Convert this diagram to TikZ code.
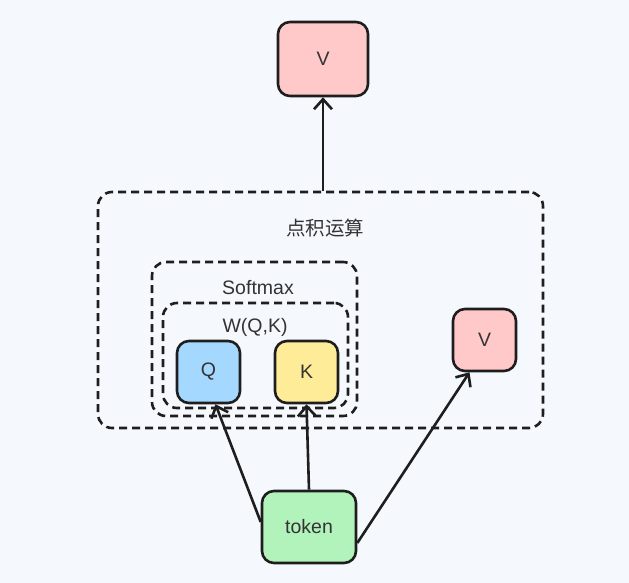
\documentclass[tikz,border=0pt]{standalone}
\usepackage{fontspec}
\setmainfont{Liberation Sans}
\newfontfamily\cjk{Noto Sans CJK SC}
\usetikzlibrary{arrows.meta}
\definecolor{bgcol}{HTML}{F5F9FD}
\definecolor{inkcol}{HTML}{1E1E1E}
\definecolor{txtcol}{HTML}{333333}
\definecolor{qcol}{HTML}{A5D8FF}
\definecolor{kcol}{HTML}{FFEC99}
\definecolor{vcol}{HTML}{FFC9C9}
\definecolor{tokcol}{HTML}{B2F2BB}
\begin{document}
\begin{tikzpicture}[
    x=1pt, y=-1pt,
    box/.style={rectangle, rounded corners=12pt, draw=inkcol, line width=2.6pt, text=txtcol, font=\fontsize{19.5}{22}\selectfont, inner sep=0pt},
    group/.style={rectangle, rounded corners=14pt, draw=inkcol, line width=2.6pt, dash pattern=on 8pt off 5pt, inner sep=0pt},
    lbl/.style={text=txtcol, font=\fontsize{19.5}{22}\selectfont},
    arr/.style={draw=inkcol, line width=2.6pt, -{Straight Barb[length=10pt,width=18pt,line width=2.6pt]}},
]
    \useasboundingbox[fill=bgcol] (0,0) rectangle (629,583);

    % Containers
    \node[group, minimum width=445pt, minimum height=236pt] (dot) at (320.5, 310) {};
    \node[lbl] (dotlbl) at (325, 228) {\cjk 点积运算};
    \node[group, minimum width=205pt, minimum height=154pt] (soft) at (254.5, 339) {};
    \node[lbl] (softlbl) at (258, 288) {Softmax};
    \node[group, minimum width=185pt, minimum height=105pt] (wqk) at (255.5, 355.5) {};
    \node[lbl] (wqklbl) at (255, 327) {W(Q,K)};

    % Boxes
    \node[box, fill=qcol, minimum width=63pt, minimum height=62pt] (q) at (208.5, 372) {Q};
    \node[box, fill=kcol, minimum width=63pt, minimum height=62pt] (k) at (306.5, 372) {K};
    \node[box, fill=vcol, minimum width=63pt, minimum height=62pt] (rv) at (484.5, 340) {V};
    \node[box, fill=vcol, minimum width=90pt, minimum height=74pt] (topv) at (323, 59) {V};
    \node[box, fill=tokcol, minimum width=94pt, minimum height=72pt] (token) at (309, 527) {token};

    % Arrows
    \draw[arr] ([yshift=5pt]token.west) -- ([xshift=7pt]q.south);
    \draw[arr] (token.north) -- (k.south);
    \draw[arr] ([yshift=-16pt]token.east) -- ([xshift=-15pt]rv.south);
    \draw[arr] (dot.north -| topv.south) -- (topv.south);
\end{tikzpicture}
\end{document}
